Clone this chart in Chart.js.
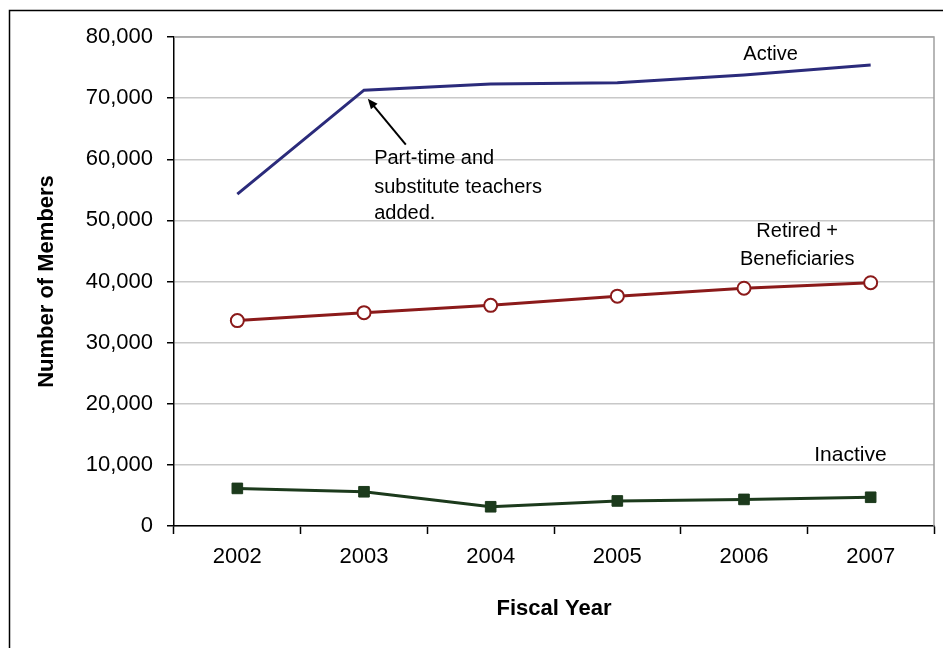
<!DOCTYPE html>
<html>
<head>
<meta charset="utf-8">
<script src="https://cdn.jsdelivr.net/npm/chart.js@4.4.0/dist/chart.umd.min.js"></script>
<style>
  html, body { margin: 0; padding: 0; background: #fff; }
  #wrap { width: 943px; height: 648px; }
</style>
</head>
<body>
<div id="wrap"><canvas id="members-chart" width="943" height="648"></canvas></div>
<script>
// fiscal years on the x axis
const years = ['2002', '2003', '2004', '2005', '2006', '2007'];

// number of members
const active = [54300, 71300, 72300, 72500, 73800, 75400];
const retired = [33600, 34900, 36100, 37600, 38900, 39800];
const inactive = [6150, 5600, 3150, 4100, 4350, 4700];

const yTicks = [0, 10000, 20000, 30000, 40000, 50000, 60000, 70000, 80000];

const FONT = '"Liberation Sans", Arial, sans-serif';

// text placed on the chart, in data units (x = category index, y = members)
const seriesLabels = [
  { text: 'Active', x: 4.21, y: 77100, size: 20 },
  { text: 'Retired +', x: 4.42, y: 48200, size: 20 },
  { text: 'Beneficiaries', x: 4.42, y: 43600, size: 20 },
  { text: 'Inactive', x: 4.84, y: 11600, size: 21 }
];
const noteLines = ['Part-time and', 'substitute teachers', 'added.'];
const noteY = [60100, 55400, 51100];

// frame, plot border, labels and the arrow
const decorations = {
  id: 'decorations',
  beforeDraw(chart) {
    const c = chart.ctx;
    c.save();
    c.fillStyle = '#fff';
    c.fillRect(0, 0, chart.width, chart.height);
    c.strokeStyle = '#000';
    c.lineWidth = 1.5;
    c.strokeRect(9.5, 10.5, 1200, 1200);
    c.restore();
  },
  beforeDatasetsDraw(chart) {
    const c = chart.ctx;
    const a = chart.chartArea;
    c.save();
    c.strokeStyle = '#a0a0a0';
    c.lineWidth = 1.5;
    c.beginPath();
    c.moveTo(a.left, a.top);
    c.lineTo(a.right, a.top);
    c.lineTo(a.right, a.bottom);
    c.stroke();
    c.restore();
  },
  afterDatasetsDraw(chart) {
    const c = chart.ctx;
    const xs = chart.scales.x;
    const ys = chart.scales.y;
    c.save();
    c.fillStyle = '#000';
    c.textAlign = 'center';
    c.textBaseline = 'middle';
    seriesLabels.forEach(l => {
      c.font = l.size + 'px ' + FONT;
      c.fillText(l.text, xs.getPixelForValue(l.x), ys.getPixelForValue(l.y));
    });
    c.font = '20px ' + FONT;
    c.textAlign = 'left';
    noteLines.forEach((t, i) => {
      c.fillText(t, xs.getPixelForValue(1.08), ys.getPixelForValue(noteY[i]));
    });

    // arrow pointing at the 2003 jump
    const tx = xs.getPixelForValue(1.03), ty = ys.getPixelForValue(69900);
    const fx = xs.getPixelForValue(1.33), fy = ys.getPixelForValue(62400);
    const ang = Math.atan2(ty - fy, tx - fx);
    c.strokeStyle = '#000';
    c.lineWidth = 2;
    c.beginPath();
    c.moveTo(fx, fy);
    c.lineTo(tx - 6 * Math.cos(ang), ty - 6 * Math.sin(ang));
    c.stroke();
    c.beginPath();
    c.moveTo(tx, ty);
    c.lineTo(tx - 11 * Math.cos(ang - 0.4), ty - 11 * Math.sin(ang - 0.4));
    c.lineTo(tx - 11 * Math.cos(ang + 0.4), ty - 11 * Math.sin(ang + 0.4));
    c.closePath();
    c.fill();
    c.restore();
  }
};

var ctx = document.getElementById('members-chart').getContext('2d');

var membersChart = new Chart(ctx, {
  type: 'line',
  data: {
    labels: years,
    datasets: [
      {
        label: 'Active',
        data: active,
        borderColor: '#2b2b7b',
        borderWidth: 3,
        pointRadius: 0,
        tension: 0
      },
      {
        label: 'Retired + Beneficiaries',
        data: retired,
        borderColor: '#8b1a1a',
        borderWidth: 3,
        pointStyle: 'circle',
        pointRadius: 6.5,
        pointBorderWidth: 2,
        pointBackgroundColor: '#fff',
        pointBorderColor: '#8b1a1a',
        tension: 0
      },
      {
        label: 'Inactive',
        data: inactive,
        borderColor: '#1c3a1c',
        borderWidth: 3,
        pointStyle: 'rect',
        pointRadius: 7.5,
        pointBorderWidth: 1,
        pointBackgroundColor: '#1c3a1c',
        pointBorderColor: '#1c3a1c',
        tension: 0
      }
    ]
  },
  options: {
    responsive: false,
    animation: false,
    layout: { padding: { top: 37, right: 9, left: 10, bottom: 0 } },
    plugins: {
      legend: { display: false },
      tooltip: { enabled: false }
    },
    scales: {
      x: {
        type: 'category',
        offset: true,
        afterFit(scale) { scale.height = 122; },
        grid: {
          offset: true,
          drawOnChartArea: false,
          drawTicks: true,
          tickLength: 8,
          tickColor: '#000',
          tickWidth: 1.5
        },
        border: { color: '#000', width: 1.5 },
        ticks: {
          color: '#000',
          padding: 10,
          font: { family: FONT, size: 22 }
        },
        title: {
          display: true,
          text: 'Fiscal Year',
          color: '#000',
          padding: { top: 0, bottom: 26 },
          font: { family: FONT, size: 22, weight: 'bold' }
        }
      },
      y: {
        min: 0,
        max: 80000,
        afterFit(scale) { scale.width = 164; },
        afterBuildTicks(scale) { scale.ticks = yTicks.map(v => ({ value: v })); },
        grid: {
          color: '#c8c8c8',
          lineWidth: 1.5,
          drawTicks: true,
          tickLength: 7,
          tickColor: '#000',
          tickWidth: 1.5
        },
        border: { color: '#000', width: 1.5 },
        ticks: {
          color: '#000',
          padding: 14,
          font: { family: FONT, size: 22 },
          callback: v => v.toLocaleString('en-US')
        },
        title: {
          display: true,
          text: 'Number of Members',
          color: '#000',
          padding: { top: 24, bottom: 0 },
          font: { family: FONT, size: 22, weight: 'bold' }
        }
      }
    }
  },
  plugins: [decorations]
});
</script>
</body>
</html>
